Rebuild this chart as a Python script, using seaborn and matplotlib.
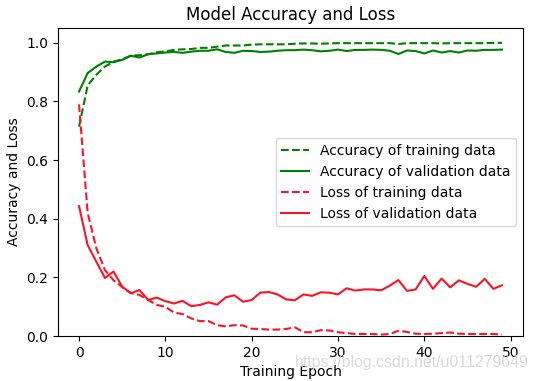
import numpy as np
import pandas as pd
import matplotlib
matplotlib.use('Agg')
import matplotlib.pyplot as plt
import seaborn as sns

# 数据
epochs = list(range(50))

acc_train = [0.714, 0.855, 0.891, 0.919, 0.936, 0.944, 0.956, 0.958, 0.961, 0.968,
             0.971, 0.976, 0.978, 0.979, 0.983, 0.983, 0.987, 0.991, 0.991, 0.991,
             0.994, 0.995, 0.995, 0.995, 0.995, 0.997, 0.998, 0.998, 0.997, 0.998,
             0.999, 0.999, 0.999, 0.999, 0.999, 0.999, 0.999, 0.996, 0.999, 0.999,
             0.999, 0.999, 0.998, 0.999, 0.999, 0.999, 0.999, 0.999, 1.000, 1.000]

acc_val = [0.834, 0.897, 0.919, 0.936, 0.934, 0.942, 0.956, 0.950, 0.961, 0.964,
           0.967, 0.969, 0.966, 0.970, 0.973, 0.973, 0.978, 0.969, 0.966, 0.973,
           0.972, 0.969, 0.970, 0.973, 0.975, 0.975, 0.977, 0.975, 0.971, 0.973,
           0.977, 0.972, 0.976, 0.976, 0.977, 0.976, 0.973, 0.962, 0.974, 0.972,
           0.964, 0.974, 0.967, 0.972, 0.967, 0.974, 0.973, 0.976, 0.976, 0.977]

loss_train = [0.79, 0.42, 0.30, 0.225, 0.19, 0.167, 0.147, 0.14, 0.123, 0.106,
              0.10, 0.08, 0.075, 0.06, 0.051, 0.051, 0.037, 0.033, 0.037, 0.036,
              0.025, 0.024, 0.022, 0.022, 0.024, 0.03, 0.013, 0.013, 0.02, 0.019,
              0.013, 0.01, 0.007, 0.007, 0.007, 0.005, 0.007, 0.018, 0.014, 0.008,
              0.007, 0.008, 0.01, 0.012, 0.008, 0.007, 0.007, 0.007, 0.007, 0.005]

loss_val = [0.443, 0.31, 0.254, 0.198, 0.22, 0.168, 0.146, 0.157, 0.123, 0.131,
            0.119, 0.111, 0.12, 0.102, 0.106, 0.115, 0.107, 0.132, 0.139, 0.117,
            0.123, 0.148, 0.15, 0.142, 0.125, 0.122, 0.142, 0.137, 0.149, 0.148,
            0.142, 0.163, 0.155, 0.159, 0.159, 0.156, 0.172, 0.191, 0.154, 0.159,
            0.205, 0.161, 0.196, 0.166, 0.19, 0.178, 0.168, 0.195, 0.161, 0.173]

fig, ax = plt.subplots(figsize=(5.36, 3.81), dpi=100)
plt.subplots_adjust(left=0.108, right=0.976, top=0.926, bottom=0.118)

red = '#fc1424'
sns.lineplot(x=epochs, y=acc_train, ax=ax, color='g', linestyle='--', label='Accuracy of training data')
sns.lineplot(x=epochs, y=acc_val, ax=ax, color='g', linestyle='-', label='Accuracy of validation data')
sns.lineplot(x=epochs, y=loss_train, ax=ax, color=red, linestyle='--', label='Loss of training data')
sns.lineplot(x=epochs, y=loss_val, ax=ax, color=red, linestyle='-', label='Loss of validation data')

ax.set_ylim(0, 1.05)
ax.set_title('Model Accuracy and Loss', size=12)
ax.set_xlabel('Training Epoch')
ax.set_ylabel('Accuracy and Loss')
ax.legend(loc='center right')

# 水印
fig.text(0.551, 0.036, 'https://blog.csdn.net/u011279649', family='Liberation Sans',
         size=11.4, color='#d4d4d4', alpha=0.85)

fig.savefig('out.png', dpi=100)
